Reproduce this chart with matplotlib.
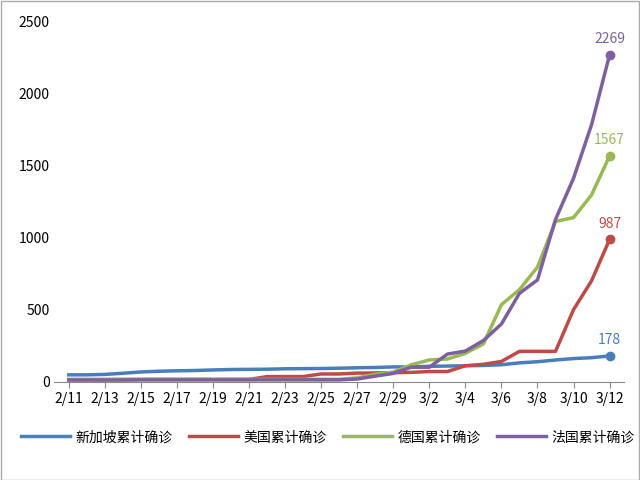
import matplotlib
matplotlib.use("Agg")
import matplotlib.pyplot as plt

plt.rcParams['font.family'] = ['Noto Sans CJK SC', 'DejaVu Sans']

dates = [f"2/{d}" for d in range(11, 30)] + [f"3/{d}" for d in range(1, 13)]
sg = [47,47,50,58,67,72,75,77,81,84,85,86,89,90,91,93,96,98,102,102,106,108,110,112,117,130,138,150,160,166,178]
us = [13,13,13,14,15,15,15,15,15,15,15,35,35,35,53,53,59,60,62,64,70,70,110,120,140,210,210,210,500,700,987]
de = [16,16,16,16,16,16,16,16,16,16,16,16,16,16,16,16,26,50,66,117,150,157,196,262,534,639,795,1112,1139,1296,1567]
fr = [11,11,11,11,12,12,12,12,12,12,12,12,12,12,12,12,18,38,57,100,100,191,212,285,400,613,706,1126,1412,1784,2269]
names = ["新加坡累计确诊", "美国累计确诊", "德国累计确诊", "法国累计确诊"]
colors = ["#4a7ebb", "#be4b48", "#98b954", "#7d60a0"]

fig = plt.figure(figsize=(6.4, 4.8), dpi=100)
fig.patches.append(plt.Rectangle((0.001, 0.001), 0.997, 0.997, transform=fig.transFigure,
                                 fill=False, edgecolor='#aaaaaa', lw=1))
ax = fig.add_axes([0.085, 0.205, 0.89, 0.75])
x = list(range(len(dates)))
for s, n, c in zip([sg, us, de, fr], names, colors):
    ax.plot(x, s, color=c, lw=2.5, label=n)
    ax.plot(x[-1], s[-1], 'o', color=c, ms=6)
    ax.text(x[-1], s[-1] + 60, str(s[-1]), color=c, ha='center', va='bottom', fontsize=10)

ax.set_ylim(0, 2500)
ax.set_xlim(-0.8, 30.8)
ax.set_yticks(range(0, 2501, 500))
ax.set_xticks(x[::2])
ax.set_xticklabels(dates[::2])
for sp in ['top', 'right', 'left']:
    ax.spines[sp].set_visible(False)
ax.spines['bottom'].set_color('#888888')
ax.tick_params(axis='y', length=0, labelsize=10)
ax.tick_params(axis='x', length=4, color='#888888', labelsize=10)
ax.legend(loc='upper center', bbox_to_anchor=(0.48, -0.1), ncol=4, frameon=False,
          fontsize=10, handlelength=3.5, handletextpad=0.4, columnspacing=1.2)
fig.savefig("out.png")
